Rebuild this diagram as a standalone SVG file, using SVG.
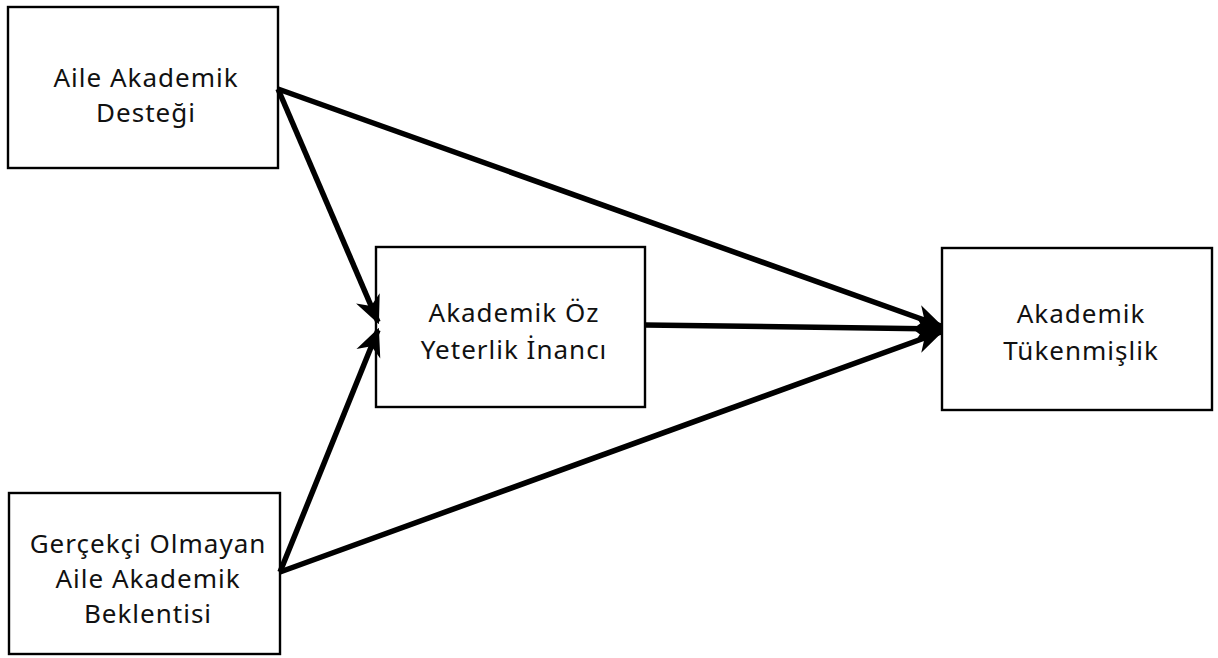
<svg xmlns="http://www.w3.org/2000/svg" width="1218" height="658" viewBox="0 0 1218 658">
<style>
.box{fill:#fff;stroke:#000;stroke-width:2.4}
.lbl{font-family:"Noto Sans","DejaVu Sans",sans-serif;font-size:26px;letter-spacing:1px;fill:#111;text-anchor:middle}
.arr{stroke:#000;stroke-width:5.5;fill:none;marker-end:url(#ah)}
</style>
<defs>
<marker id="ah" markerUnits="userSpaceOnUse" markerWidth="28" markerHeight="28" viewBox="0 0 12 12" refX="11" refY="6" orient="auto">
<path d="M0,0.5 L12,6 L0,11.5 L3.5,6 z" fill="#000"/>
</marker>
</defs>
<rect width="1218" height="658" fill="#fff"/>
<g id="n1"><rect class="box" x="8" y="7" width="270" height="161"/>
<text class="lbl" x="146" y="87">Aile Akademik</text><text class="lbl" x="146" y="122">Desteği</text></g>
<g id="n2"><rect class="box" x="376" y="247" width="269" height="160"/>
<text class="lbl" x="514" y="322">Akademik Öz</text><text class="lbl" x="514" y="359">Yeterlik İnancı</text></g>
<g id="n3"><rect class="box" x="942" y="248" width="270" height="162"/>
<text class="lbl" x="1081" y="323">Akademik</text><text class="lbl" x="1081" y="360">Tükenmişlik</text></g>
<g id="n4"><rect class="box" x="9" y="493" width="271" height="161"/>
<text class="lbl" x="148" y="553">Gerçekçi Olmayan</text><text class="lbl" x="148" y="588">Aile Akademik</text><text class="lbl" x="148" y="623">Beklentisi</text></g>
<g id="connectors">
<line class="arr" x1="278" y1="89" x2="378" y2="322"/>
<line class="arr" x1="280" y1="572" x2="378" y2="330"/>
<line class="arr" x1="278" y1="89" x2="941" y2="326"/>
<line class="arr" x1="280" y1="572" x2="941" y2="332"/>
<line class="arr" x1="645" y1="325" x2="941" y2="329"/>
</g>
</svg>
